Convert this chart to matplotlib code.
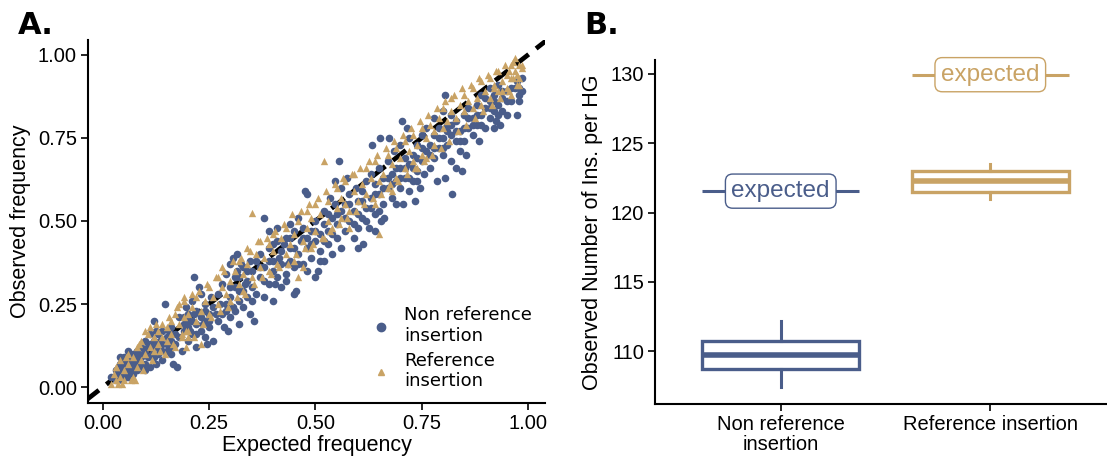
import matplotlib
matplotlib.use("Agg")
import matplotlib.pyplot as plt
from matplotlib.lines import Line2D

# ---------------- data ----------------
# Panel A: (expected, observed) frequency per insertion
nonref_points = [
    (0.03,0.02),(0.03,0.05),(0.04,0.03),(0.04,0.07),(0.05,0.04),(0.05,0.06),(0.05,0.09),(0.06,0.03),
    (0.06,0.05),(0.06,0.08),(0.07,0.04),(0.07,0.06),(0.07,0.10),(0.08,0.05),(0.08,0.07),(0.08,0.11),
    (0.035,0.04),(0.045,0.055),(0.055,0.07),(0.065,0.065),(0.075,0.085),(0.04,0.09),(0.02,0.03),(0.06,0.11),
    (0.09,0.06),(0.09,0.09),(0.10,0.07),(0.10,0.11),(0.11,0.06),(0.11,0.13),
    (0.12,0.09),(0.12,0.14),(0.12,0.20),(0.13,0.10),(0.13,0.16),(0.13,0.12),(0.14,0.08),(0.14,0.13),
    (0.14,0.17),(0.15,0.11),(0.15,0.15),(0.145,0.25),(0.16,0.10),(0.16,0.14),(0.16,0.18),(0.165,0.07),
    (0.11,0.16),(0.10,0.14),(0.09,0.12),(0.175,0.06),(0.17,0.13),(0.17,0.16),(0.18,0.21),(0.105,0.09),(0.125,0.17),
    (0.18,0.15),(0.185,0.11),(0.19,0.17),(0.19,0.19),(0.20,0.14),(0.20,0.22),(0.20,0.18),(0.21,0.16),
    (0.21,0.20),(0.21,0.26),(0.215,0.33),(0.22,0.12),(0.22,0.19),(0.22,0.23),(0.23,0.17),(0.23,0.21),
    (0.23,0.28),(0.24,0.15),(0.24,0.20),(0.24,0.25),(0.245,0.13),(0.25,0.18),(0.25,0.22),(0.255,0.27),
    (0.26,0.14),(0.26,0.24),(0.195,0.24),(0.225,0.30),
    (0.27,0.20),(0.27,0.28),(0.28,0.22),(0.28,0.31),(0.285,0.18),(0.29,0.25),(0.29,0.34),(0.30,0.21),
    (0.30,0.27),(0.30,0.37),(0.305,0.39),(0.31,0.23),(0.31,0.30),(0.315,0.35),(0.32,0.19),(0.32,0.26),
    (0.32,0.33),(0.33,0.24),(0.33,0.29),(0.33,0.36),(0.34,0.27),(0.34,0.32),(0.345,0.22),(0.35,0.30),
    (0.35,0.35),(0.355,0.20),(0.36,0.28),(0.36,0.38),(0.315,0.40),(0.295,0.17),
    (0.37,0.33),(0.37,0.40),(0.38,0.27),(0.38,0.36),(0.38,0.51),(0.39,0.31),(0.39,0.42),(0.39,0.47),
    (0.40,0.26),(0.40,0.35),(0.40,0.38),(0.41,0.33),(0.41,0.44),(0.42,0.30),(0.42,0.37),(0.42,0.41),
    (0.43,0.34),(0.43,0.45),(0.44,0.38),(0.44,0.42),(0.45,0.28),(0.45,0.36),(0.45,0.47),(0.455,0.29),
    (0.46,0.40),(0.46,0.51),(0.465,0.44),(0.41,0.48),(0.43,0.32),(0.44,0.49),
    (0.47,0.37),(0.47,0.45),(0.475,0.59),(0.48,0.35),(0.48,0.42),(0.48,0.58),(0.49,0.39),(0.49,0.47),
    (0.50,0.33),(0.50,0.44),(0.50,0.50),(0.505,0.35),(0.51,0.41),(0.51,0.46),(0.52,0.38),(0.52,0.49),
    (0.52,0.53),(0.53,0.43),(0.53,0.47),(0.54,0.40),(0.54,0.51),(0.545,0.55),(0.55,0.45),(0.55,0.49),
    (0.555,0.68),(0.56,0.42),(0.56,0.53),(0.56,0.60),(0.535,0.57),(0.545,0.62),
    (0.57,0.47),(0.57,0.55),(0.575,0.63),(0.58,0.50),(0.58,0.58),(0.59,0.45),(0.59,0.53),(0.595,0.60),
    (0.60,0.42),(0.60,0.48),(0.60,0.56),(0.61,0.51),(0.61,0.59),(0.612,0.43),(0.62,0.54),(0.62,0.62),
    (0.625,0.48),(0.63,0.57),(0.63,0.64),(0.632,0.73),(0.64,0.52),(0.64,0.61),(0.64,0.47),(0.65,0.58),
    (0.65,0.66),(0.652,0.75),(0.655,0.50),(0.66,0.55),(0.66,0.63),(0.662,0.51),
    (0.67,0.60),(0.67,0.68),(0.673,0.75),(0.68,0.57),(0.68,0.64),(0.685,0.71),(0.69,0.62),(0.69,0.55),
    (0.70,0.66),(0.70,0.60),(0.70,0.73),(0.703,0.80),(0.705,0.55),(0.71,0.63),(0.71,0.69),(0.72,0.59),
    (0.72,0.67),(0.72,0.75),(0.73,0.62),(0.73,0.70),(0.74,0.65),(0.74,0.73),(0.745,0.60),(0.75,0.68),
    (0.75,0.76),(0.755,0.64),(0.76,0.71),(0.76,0.78),(0.715,0.78),(0.735,0.56),
    (0.77,0.66),(0.77,0.73),(0.78,0.69),(0.78,0.76),(0.78,0.81),(0.785,0.62),(0.79,0.72),(0.79,0.78),
    (0.80,0.70),(0.80,0.75),(0.80,0.83),(0.804,0.88),(0.805,0.63),(0.81,0.73),(0.81,0.79),(0.82,0.68),
    (0.82,0.76),(0.82,0.82),(0.822,0.58),(0.83,0.66),(0.83,0.74),(0.83,0.80),(0.84,0.71),(0.84,0.77),
    (0.845,0.65),(0.85,0.74),(0.85,0.82),(0.86,0.78),(0.86,0.84),(0.855,0.70),
    (0.87,0.76),(0.87,0.81),(0.88,0.79),(0.88,0.85),(0.885,0.74),(0.89,0.82),(0.89,0.88),(0.90,0.78),
    (0.90,0.84),(0.91,0.81),(0.91,0.86),(0.91,0.90),(0.92,0.78),(0.92,0.83),(0.92,0.88),(0.925,0.80),
    (0.93,0.85),(0.93,0.91),(0.935,0.79),(0.94,0.83),(0.94,0.87),(0.95,0.82),(0.95,0.89),(0.96,0.86),
    (0.97,0.90),(0.975,0.82),(0.98,0.88),(0.98,0.90),(0.985,0.93),(0.98,0.86),(0.985,0.89),(0.975,0.92),
    (0.04,0.06),(0.05,0.08),(0.045,0.02),(0.055,0.03),(0.065,0.09),(0.07,0.08),(0.075,0.05),(0.085,0.09),
    (0.085,0.06),(0.095,0.10),(0.10,0.05),(0.105,0.12),(0.115,0.10),(0.12,0.12),(0.125,0.07),(0.135,0.14),
    (0.14,0.11),(0.15,0.13),(0.155,0.17),(0.16,0.12),
    (0.19,0.21),(0.20,0.20),(0.205,0.17),(0.215,0.22),(0.22,0.16),(0.235,0.19),(0.24,0.23),(0.25,0.20),
    (0.265,0.22),(0.275,0.25),(0.29,0.23),(0.30,0.30),(0.305,0.24),(0.31,0.33),(0.32,0.29),(0.325,0.37),
    (0.335,0.31),(0.34,0.35),(0.35,0.26),(0.345,0.38),
    (0.37,0.36),(0.38,0.32),(0.39,0.38),(0.40,0.43),(0.405,0.31),(0.415,0.39),(0.425,0.43),(0.435,0.37),
    (0.44,0.45),(0.45,0.42),(0.46,0.37),(0.47,0.48),(0.48,0.45),(0.49,0.43),(0.50,0.47),(0.51,0.38),
    (0.52,0.44),(0.53,0.52),(0.54,0.46),(0.55,0.52),
    (0.57,0.51),(0.58,0.55),(0.59,0.49),(0.60,0.52),(0.61,0.56),(0.62,0.50),(0.63,0.54),(0.64,0.58),
    (0.65,0.53),(0.66,0.60),(0.67,0.63),(0.68,0.61),(0.69,0.66),(0.70,0.63),(0.71,0.66),(0.72,0.63),
    (0.73,0.66),(0.74,0.69),(0.75,0.72),(0.74,0.62),
    (0.77,0.70),(0.78,0.72),(0.79,0.75),(0.80,0.72),(0.81,0.77),(0.82,0.79),(0.83,0.77),(0.84,0.74),
    (0.85,0.78),(0.86,0.81),(0.87,0.79),(0.88,0.82),(0.89,0.79),(0.90,0.87),(0.91,0.84),(0.92,0.86),
    (0.93,0.82),(0.94,0.89),(0.95,0.86),(0.96,0.90),
]

ref_points = [
    (0.02,0.01),(0.025,0.04),(0.03,0.02),(0.03,0.06),(0.035,0.01),(0.04,0.03),(0.04,0.08),(0.05,0.02),
    (0.05,0.05),(0.06,0.07),(0.06,0.10),(0.07,0.03),(0.07,0.09),(0.08,0.06),(0.08,0.12),(0.075,0.02),
    (0.09,0.08),(0.09,0.14),(0.10,0.10),(0.10,0.17),
    (0.11,0.12),(0.11,0.18),(0.12,0.15),(0.12,0.11),(0.13,0.17),(0.13,0.13),(0.14,0.15),(0.14,0.19),
    (0.145,0.10),(0.15,0.18),(0.15,0.14),(0.16,0.20),(0.16,0.16),(0.17,0.22),(0.17,0.12),(0.18,0.19),
    (0.18,0.25),(0.185,0.15),(0.19,0.21),(0.19,0.26),(0.195,0.17),(0.20,0.22),(0.20,0.15),(0.195,0.12),
    (0.21,0.24),(0.22,0.20),(0.22,0.27),(0.23,0.23),(0.24,0.26),(0.25,0.22),(0.25,0.30),(0.26,0.27),
    (0.27,0.25),(0.27,0.33),(0.28,0.30),(0.28,0.36),(0.29,0.28),(0.30,0.32),(0.30,0.26),(0.31,0.35),
    (0.32,0.31),(0.32,0.38),(0.33,0.29),(0.33,0.34),(0.34,0.37),(0.34,0.42),(0.35,0.33),(0.35,0.525),(0.23,0.13),
    (0.36,0.40),(0.37,0.36),(0.37,0.44),(0.38,0.39),(0.39,0.43),(0.39,0.35),(0.40,0.46),(0.40,0.41),
    (0.41,0.37),(0.42,0.45),(0.43,0.40),(0.43,0.48),(0.44,0.43),(0.45,0.46),(0.45,0.38),(0.46,0.50),
    (0.47,0.44),(0.47,0.36),(0.48,0.48),(0.48,0.53),(0.49,0.42),(0.49,0.51),(0.50,0.47),(0.50,0.55),(0.46,0.33),
    (0.51,0.52),(0.52,0.45),(0.52,0.68),(0.53,0.50),(0.53,0.56),(0.54,0.48),(0.55,0.54),(0.55,0.60),
    (0.56,0.51),(0.56,0.57),(0.57,0.55),(0.57,0.62),(0.58,0.53),(0.59,0.59),(0.59,0.64),(0.60,0.56),
    (0.61,0.61),(0.62,0.58),(0.62,0.66),(0.63,0.63),(0.64,0.55),(0.64,0.68),(0.65,0.62),(0.65,0.46),(0.58,0.48),
    (0.66,0.64),(0.67,0.70),(0.67,0.60),(0.68,0.67),(0.69,0.72),(0.69,0.63),(0.70,0.69),(0.71,0.66),
    (0.71,0.74),(0.72,0.71),(0.73,0.68),(0.73,0.76),(0.74,0.73),(0.75,0.70),(0.75,0.78),(0.76,0.75),
    (0.76,0.69),(0.77,0.79),(0.78,0.77),(0.78,0.73),(0.79,0.81),(0.80,0.78),(0.80,0.84),(0.74,0.66),(0.68,0.59),
    (0.81,0.80),(0.82,0.83),(0.82,0.87),(0.83,0.81),(0.84,0.85),(0.85,0.83),(0.85,0.88),(0.86,0.86),
    (0.87,0.90),(0.87,0.84),(0.88,0.87),(0.89,0.92),(0.89,0.85),(0.90,0.89),(0.91,0.93),(0.91,0.87),
    (0.92,0.91),(0.93,0.89),(0.93,0.95),(0.94,0.92),(0.95,0.94),(0.95,0.90),(0.96,0.97),(0.96,0.93),
    (0.97,0.99),(0.97,0.95),(0.98,0.97),(0.98,0.93),(0.985,0.96),(0.975,0.91),(0.96,0.88),
    (0.03,0.06),(0.045,0.01),(0.055,0.09),(0.065,0.02),(0.085,0.13),(0.095,0.05),(0.105,0.16),(0.115,0.08),
    (0.125,0.19),(0.135,0.11),(0.155,0.21),(0.165,0.13),(0.175,0.24),(0.185,0.16),(0.19,0.27),(0.20,0.17),
    (0.21,0.28),(0.215,0.15),(0.225,0.29),(0.235,0.19),
    (0.245,0.31),(0.255,0.21),(0.265,0.33),(0.275,0.23),(0.285,0.35),(0.295,0.24),(0.305,0.38),(0.315,0.27),
    (0.325,0.39),(0.335,0.28),(0.345,0.41),(0.355,0.31),(0.365,0.44),(0.375,0.33),(0.385,0.45),(0.395,0.34),
    (0.405,0.47),(0.415,0.36),(0.425,0.49),(0.435,0.37),
    (0.445,0.52),(0.455,0.40),(0.465,0.53),(0.475,0.42),(0.485,0.55),(0.495,0.43),(0.505,0.57),(0.515,0.45),
    (0.525,0.59),(0.535,0.47),(0.545,0.61),(0.555,0.49),(0.565,0.63),(0.575,0.51),(0.585,0.64),(0.595,0.53),
    (0.605,0.66),(0.615,0.55),(0.625,0.68),(0.635,0.57),
    (0.645,0.70),(0.655,0.58),(0.665,0.72),(0.675,0.61),(0.685,0.74),(0.695,0.62),(0.705,0.76),(0.715,0.64),
    (0.725,0.78),(0.735,0.66),(0.745,0.80),(0.755,0.68),(0.765,0.82),(0.775,0.70),(0.785,0.84),(0.795,0.72),
    (0.805,0.86),(0.815,0.74),(0.825,0.88),(0.835,0.77),
    (0.845,0.90),(0.855,0.79),(0.865,0.91),(0.875,0.81),(0.885,0.93),(0.895,0.83),(0.905,0.94),(0.915,0.85),
    (0.925,0.95),(0.935,0.87),(0.945,0.97),(0.955,0.89),(0.965,0.98),(0.975,0.94),(0.98,0.91),(0.985,0.97),
    (0.965,0.93),(0.955,0.95),(0.94,0.89),(0.92,0.90),
]

# Panel B: boxplot summaries
box_categories = ["Non reference\ninsertion", "Reference insertion"]
box_q1 = [108.7, 121.52]
box_median = [109.7, 122.3]
box_q3 = [110.72, 122.97]
box_whislo = [107.4, 121.0]
box_whishi = [112.15, 123.5]
expected_values = [121.55, 129.95]

legend_labels = ["Non reference\ninsertion", "Reference\ninsertion"]

BLUE = "#4a5d8a"
TAN = "#c9a365"
colors = [BLUE, TAN]

# ---------------- figure ----------------
plt.rcParams["font.family"] = ["Liberation Sans", "DejaVu Sans"]
fig = plt.figure(figsize=(11.07, 4.59), dpi=100)

TICK_FS = 14.5
LABEL_FS = 15.5

# ---- Panel A ----
axA = fig.add_axes([0.0795, 0.122, 0.4128, 0.791])
axA.plot([-0.04, 1.05], [-0.04, 1.05], color="black", lw=3.4,
         dashes=(3.5, 2.0), zorder=1)
nx = [p[0] for p in nonref_points]
ny = [p[1] for p in nonref_points]
rx = [p[0] for p in ref_points]
ry = [p[1] for p in ref_points]
axA.scatter(nx, ny, s=30, color=BLUE, marker="o", linewidths=0, zorder=2)
axA.scatter(rx, ry, s=28, color=TAN, marker="^", linewidths=0, zorder=3)
axA.set_xlim(-0.035, 1.04)
axA.set_ylim(-0.048, 1.045)
ticks = [0.0, 0.25, 0.5, 0.75, 1.0]
axA.set_xticks(ticks)
axA.set_yticks(ticks)
axA.set_xticklabels([f"{t:.2f}" for t in ticks])
axA.set_yticklabels([f"{t:.2f}" for t in ticks])
axA.tick_params(labelsize=TICK_FS, width=1.2, length=5, pad=3)
axA.set_xlabel("Expected frequency", fontsize=LABEL_FS, labelpad=1)
axA.set_ylabel("Observed frequency", fontsize=LABEL_FS, labelpad=5)
for s in ["top", "right"]:
    axA.spines[s].set_visible(False)
for s in ["left", "bottom"]:
    axA.spines[s].set_linewidth(1.5)

handles = [Line2D([], [], marker="o", color=BLUE, ls="none", markersize=6),
           Line2D([], [], marker="^", color=TAN, ls="none", markersize=5)]
axA.legend(handles, legend_labels, loc="lower right", frameon=False,
           handletextpad=0.3, labelspacing=0.35, borderaxespad=0.3,
           bbox_to_anchor=(1.0, 0.0), prop={"family": "DejaVu Sans", "size": 13})

fig.text(0.016, 0.925, "A.", fontsize=22, fontweight="bold", family="DejaVu Sans")

# ---- Panel B ----
axB = fig.add_axes([0.5917, 0.120, 0.4083, 0.749])
positions = list(range(len(box_categories)))
for i in positions:
    c = colors[i]
    st = dict(med=box_median[i], q1=box_q1[i], q3=box_q3[i],
              whislo=box_whislo[i], whishi=box_whishi[i], label="")
    axB.bxp([st], positions=[i], widths=0.75, showfliers=False,
            showcaps=False, patch_artist=True,
            boxprops=dict(facecolor="white", edgecolor=c, linewidth=2.4),
            medianprops=dict(color=c, linewidth=4.0),
            whiskerprops=dict(color=c, linewidth=2.2))
    axB.hlines(expected_values[i], i - 0.375, i + 0.375,
               color=c, lw=2.2, zorder=2)
    axB.text(i, expected_values[i], "expected", color=c,
             fontsize=17.5, ha="center", va="center", zorder=3,
             bbox=dict(boxstyle="round,pad=0.25,rounding_size=0.3",
                       facecolor="white", edgecolor=c, linewidth=1.0))

axB.set_xlim(-0.6, 1.557)
axB.set_ylim(106.2, 131.0)
axB.set_xticks(positions)
axB.set_xticklabels(box_categories, linespacing=1.05)
axB.set_yticks([110, 115, 120, 125, 130])
axB.tick_params(labelsize=TICK_FS, width=1.2, length=5, pad=3)
axB.set_ylabel("Observed Number of Ins. per HG", fontsize=LABEL_FS, labelpad=5)
for s in ["top", "right"]:
    axB.spines[s].set_visible(False)
for s in ["left", "bottom"]:
    axB.spines[s].set_linewidth(1.5)

fig.text(0.528, 0.925, "B.", fontsize=22, fontweight="bold", family="DejaVu Sans")

fig.savefig("out.png", dpi=100)
